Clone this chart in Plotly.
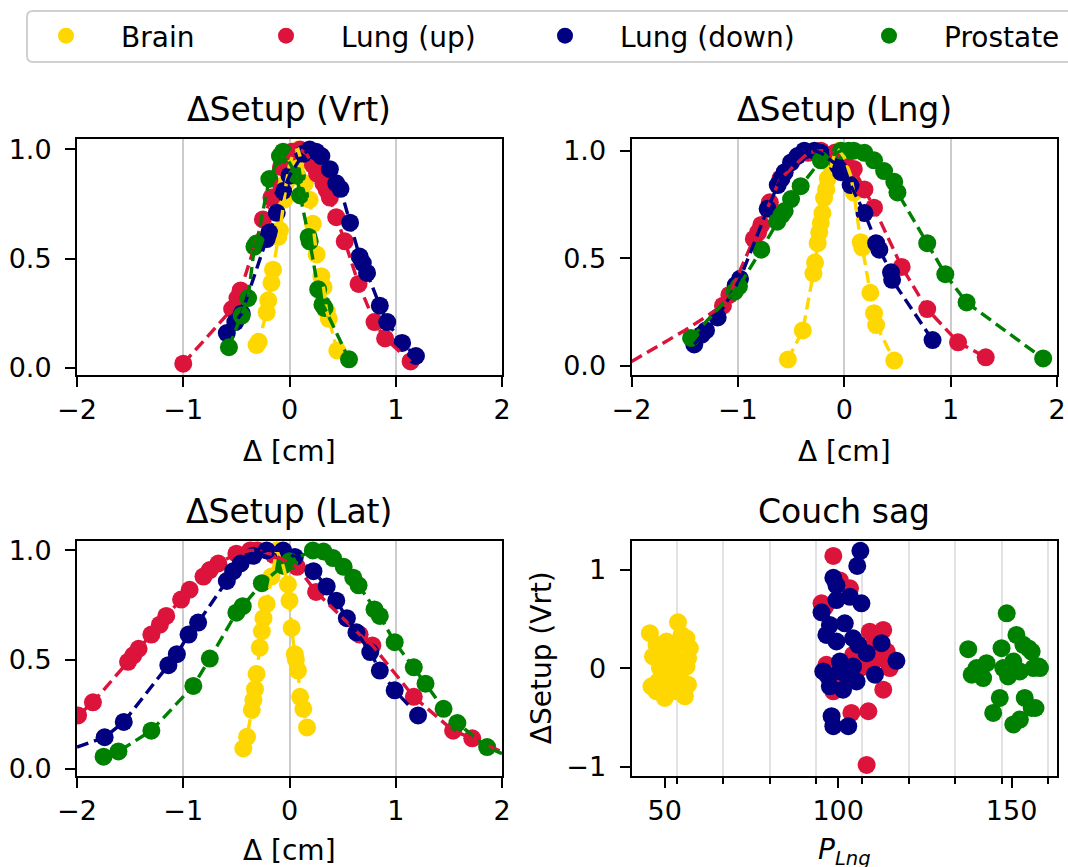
import plotly.graph_objects as go

W, H = 1068, 867
FONT = "DejaVu Sans"
COLORS = {"Brain": "#FFD700", "Lung (up)": "#DC143C", "Lung (down)": "#000080", "Prostate": "#008000"}
SERIES = ["Brain", "Lung (up)", "Lung (down)", "Prostate"]

# ---------------- ΔSetup (Vrt) ----------------
brain_vrt_x = [-0.31, -0.29, -0.215, -0.20, -0.17, -0.155, -0.105, -0.09, -0.05, -0.03, 0.0, 0.04, 0.08, 0.11, 0.145, 0.19, 0.22, 0.255, 0.30, 0.32, 0.35, 0.37, 0.45]
brain_vrt_y = [0.105, 0.12, 0.255, 0.31, 0.39, 0.45, 0.60, 0.63, 0.77, 0.85, 0.93, 0.99, 1.0, 0.95, 0.845, 0.77, 0.66, 0.52, 0.42, 0.37, 0.26, 0.225, 0.08]
lungup_vrt_x = [-1.0, -0.54, -0.49, -0.46, -0.25, -0.17, -0.08, 0.02, 0.10, 0.16, 0.22, 0.26, 0.32, 0.35, 0.38, 0.44, 0.52, 0.65, 0.80, 0.90, 1.14]
lungup_vrt_y = [0.02, 0.27, 0.32, 0.355, 0.68, 0.78, 0.92, 0.99, 1.0, 0.98, 0.93, 0.89, 0.845, 0.815, 0.78, 0.69, 0.58, 0.385, 0.21, 0.135, 0.03]
lungdown_vrt_x = [-0.59, -0.51, -0.45, -0.215, -0.19, -0.12, -0.06, 0.0, 0.13, 0.19, 0.25, 0.30, 0.38, 0.44, 0.48, 0.57, 0.66, 0.69, 0.73, 0.85, 0.92, 1.06, 1.19]
lungdown_vrt_y = [0.16, 0.21, 0.25, 0.59, 0.62, 0.71, 0.81, 0.88, 0.98, 1.0, 0.99, 0.97, 0.91, 0.845, 0.82, 0.665, 0.51, 0.48, 0.435, 0.285, 0.21, 0.115, 0.055]
prostate_vrt_x = [-0.57, -0.45, -0.39, -0.33, -0.31, -0.19, -0.09, -0.06, 0.07, 0.10, 0.18, 0.19, 0.27, 0.31, 0.33, 0.56]
prostate_vrt_y = [0.095, 0.24, 0.32, 0.555, 0.57, 0.865, 0.97, 0.99, 0.88, 0.79, 0.60, 0.58, 0.36, 0.29, 0.275, 0.04]

# ---------------- ΔSetup (Lng) ----------------
brain_lng_x = [-0.53, -0.39, -0.29, -0.275, -0.25, -0.235, -0.22, -0.205, -0.19, -0.17, -0.155, -0.125, -0.095, -0.05, 0.0, 0.06, 0.09, 0.155, 0.17, 0.245, 0.28, 0.30, 0.47]
brain_lng_y = [0.03, 0.165, 0.43, 0.48, 0.57, 0.62, 0.665, 0.71, 0.78, 0.82, 0.87, 0.93, 0.975, 1.0, 0.97, 0.885, 0.805, 0.575, 0.55, 0.34, 0.245, 0.19, 0.025]
lungup_lng_x = [-1.14, -1.08, -0.85, -0.81, -0.78, -0.70, -0.60, -0.34, -0.22, -0.09, 0.0, 0.09, 0.19, 0.28, 0.54, 0.78, 1.07, 1.33]
lungup_lng_y = [0.28, 0.33, 0.59, 0.62, 0.655, 0.76, 0.87, 0.99, 1.0, 0.99, 0.96, 0.915, 0.82, 0.735, 0.46, 0.264, 0.11, 0.04]
lungup_lng_ext_x = [-2.0, -1.5]
lungup_lng_ext_y = [0.02, 0.165]
lungdown_lng_x = [-1.41, -1.34, -1.30, -1.19, -1.02, -0.98, -0.72, -0.625, -0.59, -0.56, -0.50, -0.44, -0.375, -0.28, -0.22, -0.06, -0.03, 0.06, 0.19, 0.30, 0.33, 0.44, 0.45, 0.83]
lungdown_lng_y = [0.10, 0.145, 0.165, 0.225, 0.375, 0.405, 0.73, 0.84, 0.87, 0.90, 0.945, 0.975, 1.0, 1.0, 0.99, 0.93, 0.90, 0.84, 0.71, 0.57, 0.54, 0.435, 0.40, 0.12]
prostate_lng_x = [-1.44, -1.03, -0.99, -0.78, -0.63, -0.59, -0.56, -0.50, -0.41, -0.22, -0.03, 0.04, 0.09, 0.19, 0.28, 0.375, 0.47, 0.50, 0.78, 0.95, 1.15, 1.87]
prostate_lng_y = [0.13, 0.345, 0.37, 0.54, 0.67, 0.70, 0.72, 0.775, 0.835, 0.955, 1.0, 1.0, 1.0, 0.99, 0.955, 0.905, 0.855, 0.806, 0.57, 0.426, 0.295, 0.035]

# ---------------- ΔSetup (Lat) ----------------
brain_lat_x = [-0.435, -0.40, -0.355, -0.34, -0.325, -0.31, -0.28, -0.26, -0.245, -0.215, -0.17, -0.12, -0.06, -0.015, 0.0, 0.02, 0.05, 0.06, 0.08, 0.10, 0.13, 0.165]
brain_lat_y = [0.094, 0.147, 0.27, 0.315, 0.365, 0.435, 0.555, 0.63, 0.69, 0.755, 0.88, 1.0, 0.93, 0.845, 0.77, 0.645, 0.525, 0.50, 0.45, 0.33, 0.275, 0.19]
lungup_lat_x = [-1.99, -1.85, -1.52, -1.47, -1.42, -1.30, -1.22, -1.16, -1.02, -0.94, -0.81, -0.75, -0.67, -0.50, -0.37, -0.30, -0.15, 0.07, 0.25, 0.66, 0.78, 1.17, 1.54, 1.72]
lungup_lat_y = [0.245, 0.305, 0.49, 0.52, 0.55, 0.615, 0.66, 0.70, 0.775, 0.82, 0.88, 0.91, 0.94, 0.985, 1.0, 1.0, 0.98, 0.925, 0.81, 0.615, 0.565, 0.33, 0.175, 0.14]
lungup_lat_ext_x = [2.0]
lungup_lat_ext_y = [0.078]
lungdown_lat_x = [-1.74, -1.56, -1.14, -1.06, -0.95, -0.86, -0.59, -0.53, -0.46, -0.34, -0.215, -0.06, 0.05, 0.225, 0.35, 0.44, 0.54, 0.63, 0.76, 0.85, 0.99, 1.21]
lungdown_lat_y = [0.145, 0.215, 0.475, 0.525, 0.615, 0.67, 0.86, 0.905, 0.94, 0.975, 1.0, 1.0, 0.97, 0.905, 0.835, 0.77, 0.69, 0.625, 0.535, 0.45, 0.36, 0.245]
lungdown_lat_ext_x = [-2.0]
lungdown_lat_ext_y = [0.10]
prostate_lat_x = [-1.75, -1.61, -1.30, -0.905, -0.75, -0.50, -0.44, -0.26, -0.06, 0.0, 0.22, 0.32, 0.41, 0.51, 0.60, 0.65, 0.80, 0.85, 0.99, 1.17, 1.28, 1.45, 1.58, 1.86]
prostate_lat_y = [0.056, 0.08, 0.175, 0.38, 0.505, 0.715, 0.745, 0.85, 0.93, 0.95, 1.0, 0.995, 0.965, 0.925, 0.875, 0.84, 0.73, 0.70, 0.58, 0.465, 0.39, 0.275, 0.21, 0.10]
prostate_lat_ext_x = [2.0]
prostate_lat_ext_y = [0.07]

# ---------------- Couch sag ----------------
brain_sag_x = [45.7, 53.8, 56.25, 57.2, 56.7, 46.6, 47.6, 50.5, 52.4, 48.6, 53.4, 56.25, 46.15, 47.6, 50.0, 55.8, 56.7, 53.8, 51.4, 49.5, 52.4, 54.8, 49.0, 51.4, 54.3, 48.1, 51.0, 53.4]
brain_sag_y = [0.354, 0.465, 0.303, 0.202, 0.10, 0.118, 0.236, 0.269, 0.219, 0.0, 0.034, 0.017, -0.185, -0.236, -0.303, -0.286, -0.168, -0.152, -0.101, -0.067, 0.135, 0.337, 0.168, 0.034, -0.067, -0.135, -0.219, -0.236]
lungup_sag_x = [98.6, 100.5, 103.4, 95.2, 96.2, 109.1, 113.0, 110.1, 114.0, 114.9, 106.25, 108.0, 113.0, 96.6, 103.8, 108.7, 108.2, 98.6, 99.5, 104.3, 110.1, 106.7, 111.5, 112.0]
lungup_sag_y = [1.138, 0.89, 0.81, 0.657, 0.62, 0.37, 0.387, 0.236, 0.168, 0.0, 0.0, 0.02, -0.219, 0.034, -0.455, -0.438, -0.983, -0.236, -0.20, 0.135, 0.067, 0.2, 0.3, 0.1]
lungdown_sag_x = [106.4, 105.5, 98.6, 99.5, 99.5, 103.4, 106.7, 95.2, 97.6, 101.9, 96.6, 99.5, 104.3, 105.8, 108.2, 112.5, 116.8, 95.7, 97.1, 100.5, 104.3, 97.6, 101.4, 105.3, 110.6, 98.1, 98.6, 102.9, 100.5, 102.4]
lungdown_sag_y = [1.19, 1.037, 0.916, 0.84, 0.69, 0.724, 0.657, 0.566, 0.438, 0.455, 0.337, 0.27, 0.303, 0.236, 0.152, 0.253, 0.074, -0.034, -0.084, -0.034, 0.017, -0.185, -0.219, -0.135, -0.067, -0.488, -0.589, -0.589, 0.067, -0.067]
prostate_sag_x = [137.5, 148.6, 151.4, 153.4, 155.8, 147.1, 142.8, 139.9, 138.5, 141.8, 147.6, 149.0, 150.5, 152.4, 156.3, 158.2, 146.6, 144.7, 150.5, 152.4, 153.8, 155.8, 156.9, 154.9, 157.9]
prostate_sag_y = [0.192, 0.556, 0.337, 0.236, 0.168, 0.202, 0.05, 0.0, -0.067, -0.101, 0.0, -0.084, 0.067, -0.034, 0.0, 0.0, -0.303, -0.455, -0.572, -0.522, -0.303, -0.404, -0.405, 0.2, 0.016]

# ticks
x_ticks = [-2, -1, 0, 1, 2]
y_ticks = [0, 0.5, 1.0]
sag_x_ticks = [50, 100, 150]
sag_x_minor = [40.1, 53.5, 66.85, 80.2, 93.6, 107.0, 120.4, 133.75, 147.1, 160.5]
sag_y_ticks = [-1, 0, 1]

panels = [
    ("x", "y", {"Brain": (brain_vrt_x, brain_vrt_y, [], []),
                "Lung (up)": (lungup_vrt_x, lungup_vrt_y, [], []),
                "Lung (down)": (lungdown_vrt_x, lungdown_vrt_y, [], []),
                "Prostate": (prostate_vrt_x, prostate_vrt_y, [], [])}),
    ("x2", "y2", {"Brain": (brain_lng_x, brain_lng_y, [], []),
                  "Lung (up)": (lungup_lng_x, lungup_lng_y, lungup_lng_ext_x, lungup_lng_ext_y),
                  "Lung (down)": (lungdown_lng_x, lungdown_lng_y, [], []),
                  "Prostate": (prostate_lng_x, prostate_lng_y, [], [])}),
    ("x3", "y3", {"Brain": (brain_lat_x, brain_lat_y, [], []),
                  "Lung (up)": (lungup_lat_x, lungup_lat_y, lungup_lat_ext_x, lungup_lat_ext_y),
                  "Lung (down)": (lungdown_lat_x, lungdown_lat_y, lungdown_lat_ext_x, lungdown_lat_ext_y),
                  "Prostate": (prostate_lat_x, prostate_lat_y, prostate_lat_ext_x, prostate_lat_ext_y)}),
]

MS = 18
fig = go.Figure()
legend_ids = ["legend", "legend2", "legend3", "legend4"]

for pi, (xa, ya, data) in enumerate(panels):
    # markers first
    for si, s in enumerate(SERIES):
        xs, ys, ex, ey = data[s]
        fig.add_trace(go.Scatter(x=xs, y=ys, mode="markers", xaxis=xa, yaxis=ya,
                                 marker=dict(size=MS, color=COLORS[s], line=dict(width=0)),
                                 name=s, showlegend=(pi == 0), legend=legend_ids[si]))
    # then dashed lines
    for s in SERIES:
        xs, ys, ex, ey = data[s]
        pairs = sorted(zip(list(xs) + list(ex), list(ys) + list(ey)))
        fig.add_trace(go.Scatter(x=[p[0] for p in pairs], y=[p[1] for p in pairs], mode="lines",
                                 xaxis=xa, yaxis=ya, showlegend=False, hoverinfo="skip",
                                 line=dict(color=COLORS[s], width=3.4, dash="12px,6px")))

sag = {"Brain": (brain_sag_x, brain_sag_y), "Lung (up)": (lungup_sag_x, lungup_sag_y),
       "Lung (down)": (lungdown_sag_x, lungdown_sag_y), "Prostate": (prostate_sag_x, prostate_sag_y)}
for s in SERIES:
    xs, ys = sag[s]
    fig.add_trace(go.Scatter(x=xs, y=ys, mode="markers", xaxis="x4", yaxis="y4", showlegend=False,
                             marker=dict(size=MS, color=COLORS[s], line=dict(width=0))))

def px2x(p):
    return p / W

def py2y(p):
    return 1 - p / H

col1 = [px2x(77), px2x(502)]
col2 = [px2x(631.5), px2x(1057)]
row1 = [py2y(375), py2y(139)]
row2 = [py2y(775.5), py2y(541)]

base = dict(showline=True, linecolor="black", linewidth=2, mirror=True, ticks="outside",
            ticklen=10, tickwidth=2, tickcolor="black", zeroline=False, automargin=False,
            tickfont=dict(family=FONT, size=27, color="black"))

def xax(domain, anchor):
    return dict(base, domain=domain, anchor=anchor, range=[-2, 2], tickmode="array", tickvals=x_ticks,
                showgrid=True, gridcolor="#cccccc", gridwidth=2)

def yax(domain, anchor, rng):
    return dict(base, domain=domain, anchor=anchor, range=rng, tickmode="array", tickvals=y_ticks,
                tickformat=".1f", showgrid=False, ticklabelstandoff=8)

fig.update_layout(
    width=W, height=H, margin=dict(l=0, r=0, t=0, b=0),
    paper_bgcolor="white", plot_bgcolor="white",
    font=dict(family=FONT, color="black"),
    xaxis=xax(col1, "y"), yaxis=yax(row1, "x", [-0.032, 1.048]),
    xaxis2=xax(col2, "y2"), yaxis2=yax(row1, "x2", [-0.042, 1.054]),
    xaxis3=xax(col1, "y3"), yaxis3=yax(row2, "x3", [-0.03, 1.043]),
    xaxis4=dict(base, domain=col2, anchor="y4", range=[40.4, 163.1], tickmode="array", tickvals=sag_x_ticks,
                showgrid=False,
                minor=dict(tickmode="array", tickvals=sag_x_minor, ticks="outside", ticklen=6, tickwidth=1.5,
                           tickcolor="black", showgrid=True, gridcolor="#e3e3e3", gridwidth=2)),
    yaxis4=dict(base, domain=row2, anchor="x4", range=[-1.09, 1.29], tickmode="array", tickvals=sag_y_ticks,
                showgrid=False, ticklabelstandoff=8),
)

# legends (one per series, placed like the reference entries)
dot_px = [66, 286, 565, 889]
for i, lid in enumerate(legend_ids):
    fig.update_layout({lid: dict(orientation="h", x=px2x(dot_px[i] - 55), xanchor="left",
                                 y=py2y(36), yanchor="middle", bgcolor="rgba(0,0,0,0)", borderwidth=0,
                                 itemwidth=100, font=dict(family=FONT, size=28, color="black"))})

# legend frame
x0, x1, y0, y1, r = 27, 1090, 11, 62, 6
path = (f"M {px2x(x0 + r)},{py2y(y0)} L {px2x(x1 - r)},{py2y(y0)} "
        f"Q {px2x(x1)},{py2y(y0)} {px2x(x1)},{py2y(y0 + r)} L {px2x(x1)},{py2y(y1 - r)} "
        f"Q {px2x(x1)},{py2y(y1)} {px2x(x1 - r)},{py2y(y1)} L {px2x(x0 + r)},{py2y(y1)} "
        f"Q {px2x(x0)},{py2y(y1)} {px2x(x0)},{py2y(y1 - r)} L {px2x(x0)},{py2y(y0 + r)} "
        f"Q {px2x(x0)},{py2y(y0)} {px2x(x0 + r)},{py2y(y0)} Z")
fig.add_shape(type="path", path=path, xref="paper", yref="paper",
              line=dict(color="#d0d0d0", width=2), fillcolor="rgba(255,255,255,0.8)", layer="below")

titles = [("ΔSetup (Vrt)", col1, row1), ("ΔSetup (Lng)", col2, row1),
          ("ΔSetup (Lat)", col1, row2), ("Couch sag", col2, row2)]
for t, c, rw in titles:
    fig.add_annotation(text=t, x=(c[0] + c[1]) / 2, y=rw[1], xref="paper", yref="paper",
                       xanchor="center", yanchor="bottom", yshift=8, showarrow=False,
                       font=dict(family=FONT, size=33, color="black"))

xlabels = [("Δ [cm]", col1, row1, -58), ("Δ [cm]", col2, row1, -58), ("Δ [cm]", col1, row2, -56),
           ("<i>P</i><sub><i>Lng</i></sub>", col2, row2, -55)]
for t, c, rw, ys in xlabels:
    fig.add_annotation(text=t, x=(c[0] + c[1]) / 2, y=rw[0], xref="paper", yref="paper",
                       xanchor="center", yanchor="top", yshift=ys, showarrow=False,
                       font=dict(family=FONT, size=28, color="black"))

fig.add_annotation(text="ΔSetup (Vrt)", x=px2x(541), y=(row2[0] + row2[1]) / 2, xref="paper", yref="paper",
                   xanchor="center", yanchor="middle", textangle=-90, showarrow=False,
                   font=dict(family=FONT, size=28, color="black"))

fig.write_html("out.html", config={"displayModeBar": False},
               post_script="document.body.style.margin='0';document.body.style.overflow='hidden';")
